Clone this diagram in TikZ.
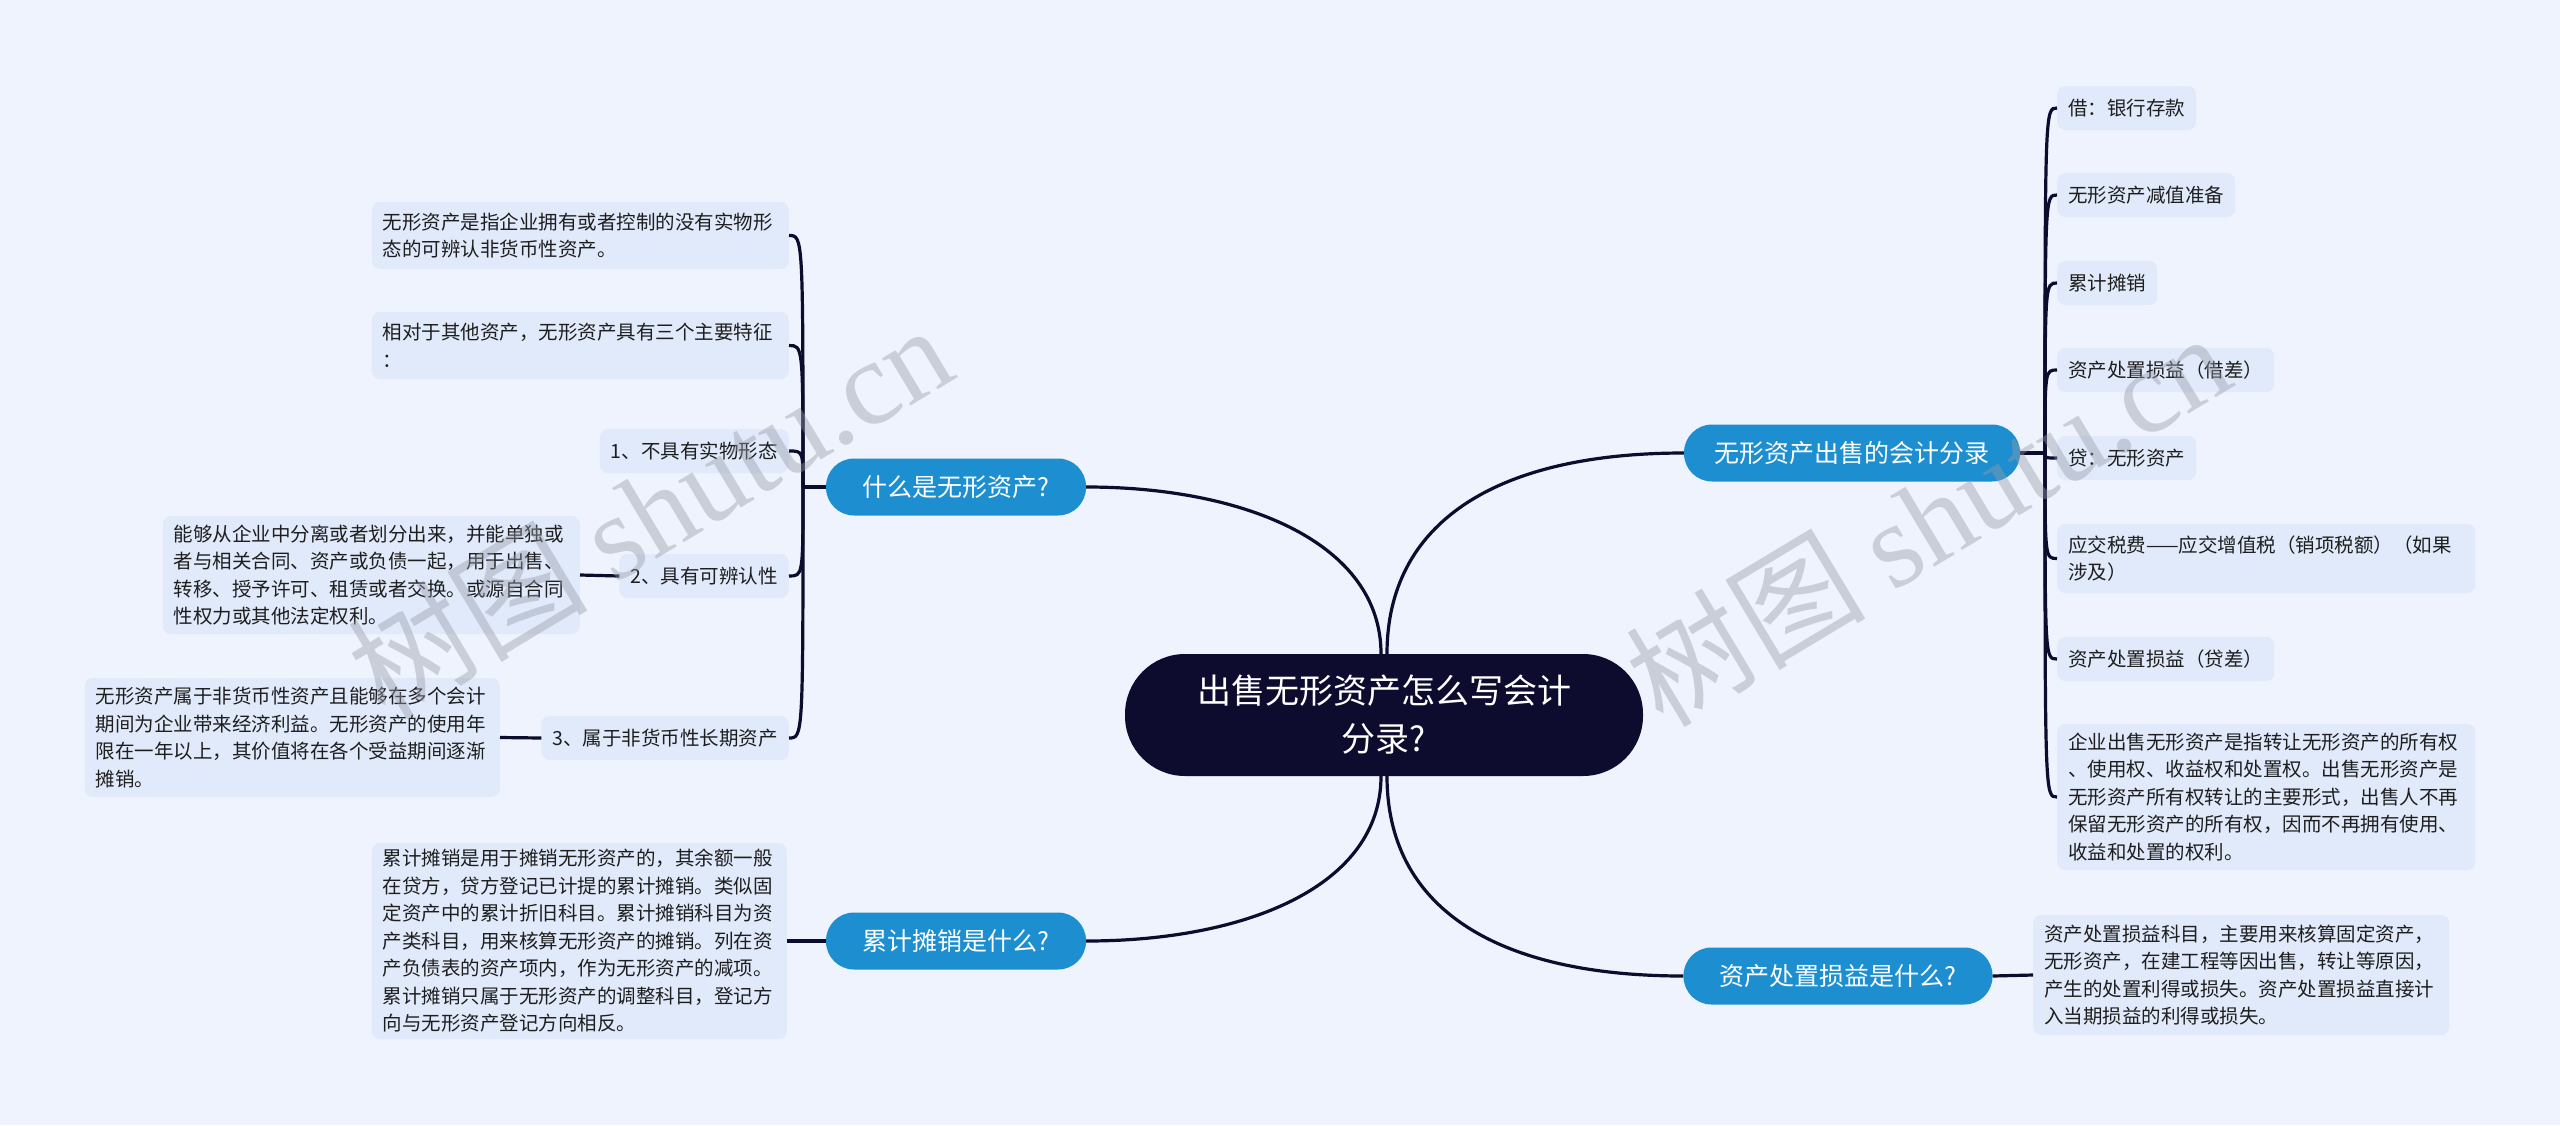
\documentclass[tikz,border=0pt]{standalone}
\usepackage{fontspec}
\setmainfont{Noto Sans CJK SC}
\newfontfamily\wmlatin{Liberation Serif}
\definecolor{bgc}{RGB}{238,243,253}
\definecolor{navy}{RGB}{13,11,46}
\definecolor{topicc}{RGB}{29,143,208}
\definecolor{leafc}{RGB}{225,234,251}
\definecolor{txtc}{RGB}{30,30,30}
\definecolor{wmc}{RGB}{150,155,168}
\begin{document}
\begin{tikzpicture}[x=1pt,y=-1pt,
  rootbox/.style={fill=navy,text=white,rounded corners=60pt,minimum width=518pt,minimum height=122pt,align=center,font=\fontsize{34}{48}\selectfont,inner sep=0pt},
  topicbox/.style={fill=topicc,text=white,rounded corners=28pt,minimum height=57pt,font=\fontsize{25}{30}\selectfont,inner sep=0pt},
  leafbox/.style={fill=leafc,text=txtc,rounded corners=8pt,font=\fontsize{19.5}{27.5}\selectfont,inner xsep=11pt,inner ysep=0pt,minimum height=44pt,align=left},
  conn/.style={draw=navy,line width=3.2pt},
  wm/.style={text=wmc,text opacity=0.42,font=\fontsize{120}{120}\selectfont,inner sep=0pt}]
\useasboundingbox (0,0) rectangle (2560,1125);
\fill[bgc] (0,0) rectangle (2560,1125);

% central and topics
\node[rootbox] (root) at (1384,715) {出售无形资产怎么写会计\\分录?};
\node[topicbox,minimum width=260pt] (A) at (956,487) {什么是无形资产?};
\node[topicbox,minimum width=260pt] (B) at (956,941) {累计摊销是什么?};
\node[topicbox,minimum width=336pt] (R) at (1852,453) {无形资产出售的会计分录};
\node[topicbox,minimum width=309pt] (C) at (1838,976) {资产处置损益是什么?};

% left upper leaves
\node[leafbox,text width=395pt,minimum height=67pt,anchor=east] (a1) at (789,235.5) {无形资产是指企业拥有或者控制的没有实物形\\态的可辨认非货币性资产。};
\node[leafbox,text width=395pt,minimum height=67pt,anchor=east] (a2) at (789,345.5) {相对于其他资产，无形资产具有三个主要特征\\：};
\node[leafbox,anchor=east] (a3) at (789,451) {1、不具有实物形态};
\node[leafbox,anchor=east] (a4) at (789,576) {2、具有可辨认性};
\node[leafbox,anchor=east] (a5) at (789,738) {3、属于非货币性长期资产};
\node[leafbox,text width=395pt,minimum height=118pt,anchor=east] (a4d) at (580,575) {能够从企业中分离或者划分出来，并能单独或\\者与相关合同、资产或负债一起，用于出售、\\转移、授予许可、租赁或者交换。或源自合同\\性权力或其他法定权利。};
\node[leafbox,text width=393pt,minimum height=119pt,anchor=east] (a5d) at (500,737.5) {无形资产属于非货币性资产且能够在多个会计\\期间为企业带来经济利益。无形资产的使用年\\限在一年以上，其价值将在各个受益期间逐渐\\摊销。};
\node[leafbox,text width=393pt,minimum height=196pt,anchor=east] (b1) at (787,941) {累计摊销是用于摊销无形资产的，其余额一般\\在贷方，贷方登记已计提的累计摊销。类似固\\定资产中的累计折旧科目。累计摊销科目为资\\产类科目，用来核算无形资产的摊销。列在资\\产负债表的资产项内，作为无形资产的减项。\\累计摊销只属于无形资产的调整科目，登记方\\向与无形资产登记方向相反。};

% right leaves
\node[leafbox,anchor=west] (r1) at (2057,108) {借：银行存款};
\node[leafbox,anchor=west] (r2) at (2057,195) {无形资产减值准备};
\node[leafbox,anchor=west] (r3) at (2057,283) {累计摊销};
\node[leafbox,anchor=west] (r4) at (2057,370) {资产处置损益（借差）};
\node[leafbox,anchor=west] (r5) at (2057,458) {贷：无形资产};
\node[leafbox,text width=396pt,minimum height=69pt,anchor=west] (r6) at (2057,558.5) {应交税费——应交增值税（销项税额）（如果\\涉及）};
\node[leafbox,anchor=west] (r7) at (2057,659) {资产处置损益（贷差）};
\node[leafbox,text width=396pt,minimum height=146pt,anchor=west] (r8) at (2057,797) {企业出售无形资产是指转让无形资产的所有权\\、使用权、收益权和处置权。出售无形资产是\\无形资产所有权转让的主要形式，出售人不再\\保留无形资产的所有权，因而不再拥有使用、\\收益和处置的权利。};
\node[leafbox,text width=394pt,minimum height=120pt,anchor=west] (c1) at (2033,975) {资产处置损益科目，主要用来核算固定资产，\\无形资产，在建工程等因出售，转让等原因，\\产生的处置利得或损失。资产处置损益直接计\\入当期损益的利得或损失。};

% connectors from root
\draw[conn] ([xshift=-3pt]root.north) .. controls +(0,-110) and +(160,0) .. (A.east);
\draw[conn] ([xshift=3pt]root.north) .. controls +(0,-130) and +(-190,0) .. (R.west);
\draw[conn] ([xshift=-3pt]root.south) .. controls +(0,110) and +(160,0) .. (B.east);
\draw[conn] ([xshift=3pt]root.south) .. controls +(0,130) and +(-190,0) .. (C.west);

% left upper group
\coordinate (sA) at (803,487);
\draw[conn] (A.west) -- (sA);
\foreach \n in {a1,a2,a3,a4,a5}
  \draw[conn] (sA) .. controls (sA |- \n.east) .. (\n.east);
\draw[conn] (a4.west) -- (a4d.east);
\draw[conn] (a5.west) -- (a5d.east);

% right group
\coordinate (sR) at (2045,453);
\draw[conn] (R.east) -- (sR);
\foreach \n in {r1,r2,r3,r4,r5,r6,r7,r8}
  \draw[conn] (sR) .. controls (sR |- \n.west) .. (\n.west);

% bottom groups
\draw[conn] (B.west) -- (b1.east);
\draw[conn] (C.east) -- (c1.west);

% watermarks
\node[wm,rotate=31] (wm1) at (649,510) {树图 {\wmlatin shutu.cn}};
\node[wm,rotate=31] (wm2) at (1927,518) {树图 {\wmlatin shutu.cn}};
\end{tikzpicture}
\end{document}
